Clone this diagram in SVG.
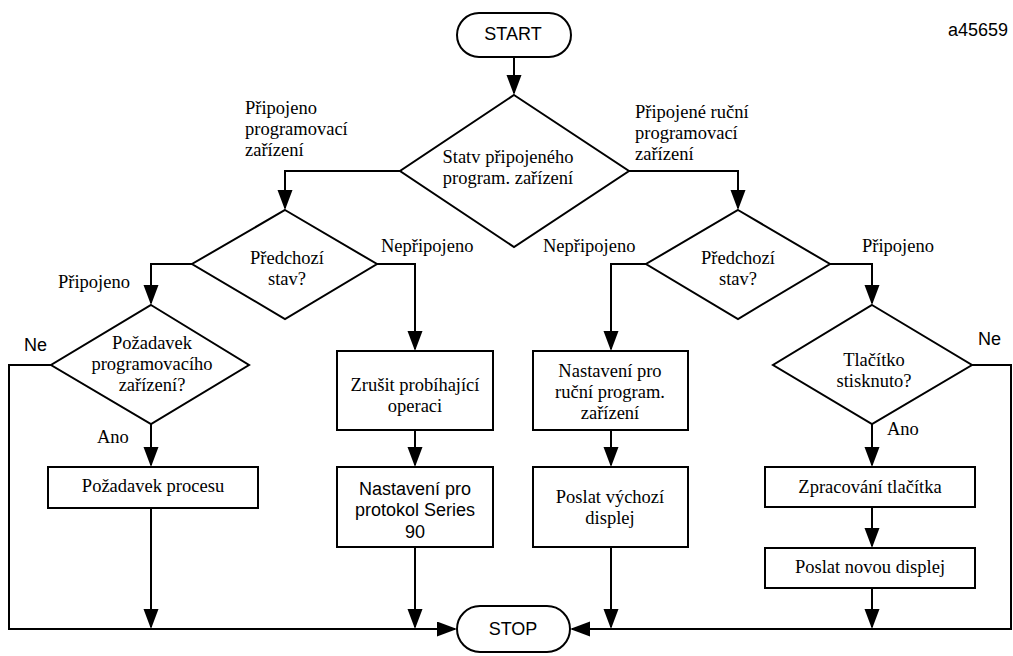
<svg xmlns="http://www.w3.org/2000/svg" width="1013" height="656" viewBox="0 0 1013 656">
  <defs>
    <marker id="arrow" markerUnits="userSpaceOnUse" markerWidth="20" markerHeight="16" refX="18" refY="7.5" orient="auto">
      <path d="M0,0 L20,7.5 L0,15 Z" fill="#000"/>
    </marker>
    <style>
      .shape { fill: #fff; stroke: #000; stroke-width: 2; }
      .link { fill: none; stroke: #000; stroke-width: 2; marker-end: url(#arrow); }
      .serif { font-family: 'Liberation Serif', 'Times New Roman', serif; font-size: 18.5px; fill: #000; }
      .sans { font-family: 'Liberation Sans', Arial, sans-serif; font-size: 18px; fill: #000; }
      .mid { text-anchor: middle; }
    </style>
  </defs>
  <rect width="1013" height="656" fill="#fff"/>

  <!-- connectors -->
  <g id="connectors">
    <path class="link" d="M514,57 V93"/>
    <path class="link" d="M400,171 H285 V208"/>
    <path class="link" d="M629,171 H738 V208"/>
    <path class="link" d="M192,264 H151 V303"/>
    <path class="link" d="M377,264 H415 V349"/>
    <path class="link" d="M646,264 H611 V349"/>
    <path class="link" d="M830,264 H872 V303"/>
    <path class="link" d="M151,424 V465"/>
    <path class="link" d="M151,508 V627"/>
    <path class="link" d="M415,430 V465"/>
    <path class="link" d="M415,547 V627"/>
    <path class="link" d="M611,430 V465"/>
    <path class="link" d="M611,547 V627"/>
    <path class="link" d="M872,424 V465"/>
    <path class="link" d="M872,507 V546"/>
    <path class="link" d="M872,588 V627"/>
    <path class="link" d="M51,365 H9 V629 H455"/>
    <path class="link" d="M972,365 H1011 V629 H572"/>
  </g>

  <!-- terminals -->
  <g id="start">
    <rect class="shape" x="457" y="13" width="114" height="44" rx="22"/>
    <text class="sans mid" x="513" y="40">START</text>
  </g>
  <g id="stop">
    <rect class="shape" x="457" y="606" width="113" height="46" rx="23"/>
    <text class="sans mid" x="513" y="635">STOP</text>
  </g>

  <!-- decisions -->
  <g id="status">
    <polygon class="shape" points="514,95 629,171 514,247 400,171"/>
    <text class="serif mid" x="508" y="163">Statv připojeného</text>
    <text class="serif mid" x="508" y="184">program. zařízení</text>
  </g>
  <g id="prev-left">
    <polygon class="shape" points="285,210 377,264 285,319 192,264"/>
    <text class="serif mid" x="287" y="264">Předchozí</text>
    <text class="serif mid" x="287" y="285">stav?</text>
  </g>
  <g id="prev-right">
    <polygon class="shape" points="738,210 830,264 738,319 646,264"/>
    <text class="serif mid" x="738" y="264">Předchozí</text>
    <text class="serif mid" x="738" y="285">stav?</text>
  </g>
  <g id="request">
    <polygon class="shape" points="151,305 249,365 151,424 51,365"/>
    <text class="serif mid" x="152" y="349">Požadavek</text>
    <text class="serif mid" x="152" y="370">programovacího</text>
    <text class="serif mid" x="152" y="391">zařízení?</text>
  </g>
  <g id="button">
    <polygon class="shape" points="872,305 972,365 872,424 773,365"/>
    <text class="serif mid" x="874" y="366">Tlačítko</text>
    <text class="serif mid" x="874" y="387">stisknuto?</text>
  </g>

  <!-- processes -->
  <g id="process-request">
    <rect class="shape" x="48" y="467" width="210" height="41"/>
    <text class="serif mid" x="153" y="492">Požadavek procesu</text>
  </g>
  <g id="cancel">
    <rect class="shape" x="337" y="351" width="156" height="79"/>
    <text class="serif mid" x="415" y="391">Zrušit probíhající</text>
    <text class="serif mid" x="415" y="412">operaci</text>
  </g>
  <g id="series90">
    <rect class="shape" x="337" y="467" width="156" height="80"/>
    <text class="sans mid" x="415" y="495">Nastavení pro</text>
    <text class="sans mid" x="415" y="516">protokol Series</text>
    <text class="sans mid" x="415" y="538">90</text>
  </g>
  <g id="handheld">
    <rect class="shape" x="533" y="351" width="155" height="79"/>
    <text class="serif mid" x="610" y="377">Nastavení pro</text>
    <text class="serif mid" x="610" y="398">ruční program.</text>
    <text class="serif mid" x="610" y="419">zařízení</text>
  </g>
  <g id="default-display">
    <rect class="shape" x="533" y="467" width="155" height="80"/>
    <text class="serif mid" x="610" y="503">Poslat výchozí</text>
    <text class="serif mid" x="610" y="524">displej</text>
  </g>
  <g id="handle-button">
    <rect class="shape" x="765" y="467" width="210" height="40"/>
    <text class="serif mid" x="870" y="493">Zpracování tlačítka</text>
  </g>
  <g id="new-display">
    <rect class="shape" x="765" y="548" width="210" height="40"/>
    <text class="serif mid" x="870" y="573">Poslat novou displej</text>
  </g>

  <!-- branch labels -->
  <g id="labels">
    <text class="serif" x="245" y="114">Připojeno</text>
    <text class="serif" x="245" y="135">programovací</text>
    <text class="serif" x="245" y="156">zařízení</text>
    <text class="serif" x="635" y="118">Připojené ruční</text>
    <text class="serif" x="635" y="139">programovací</text>
    <text class="serif" x="635" y="160">zařízení</text>
    <text class="serif" x="381" y="252">Nepřipojeno</text>
    <text class="serif" x="543" y="252">Nepřipojeno</text>
    <text class="serif" x="862" y="252">Připojeno</text>
    <text class="serif" x="58" y="288">Připojeno</text>
    <text class="serif" x="97" y="443">Ano</text>
    <text class="serif" x="887" y="435">Ano</text>
    <text class="sans" x="24" y="351">Ne</text>
    <text class="sans" x="978" y="345">Ne</text>
    <text class="sans" x="948" y="36">a45659</text>
  </g>
</svg>
